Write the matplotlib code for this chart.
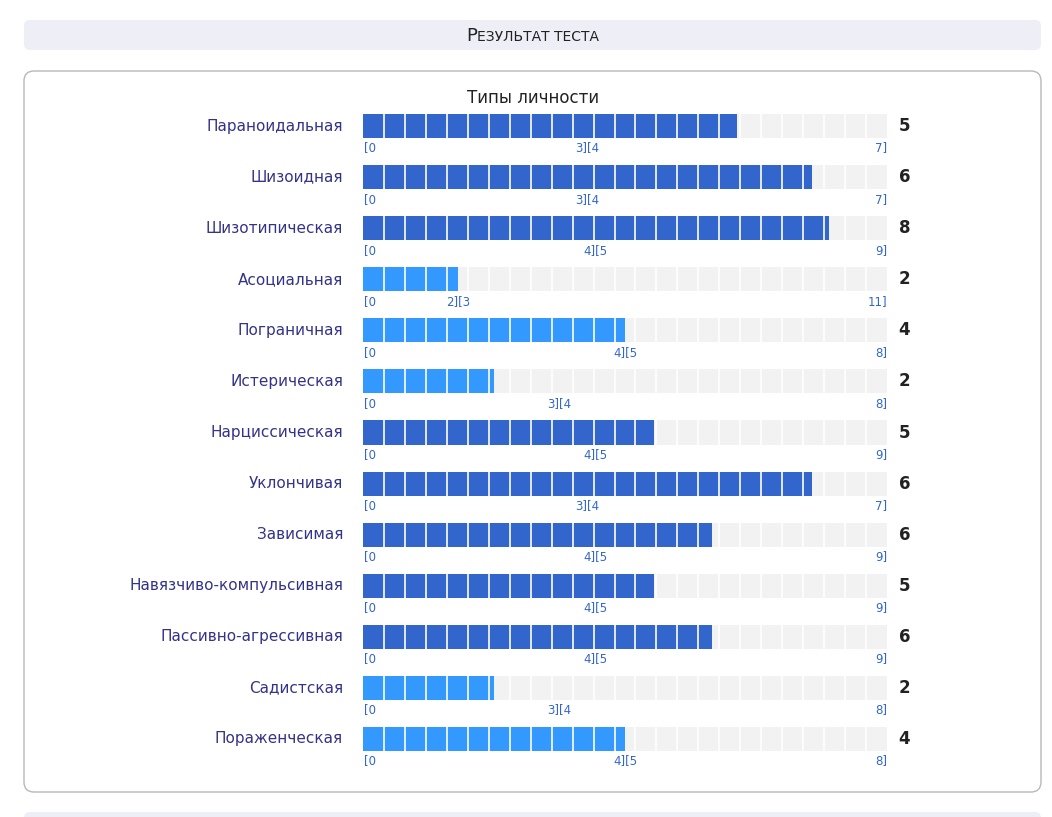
import matplotlib.pyplot as plt
from matplotlib.patches import FancyBboxPatch, Rectangle

names = ['Параноидальная', 'Шизоидная', 'Шизотипическая', 'Асоциальная', 'Пограничная',
         'Истерическая', 'Нарциссическая', 'Уклончивая', 'Зависимая',
         'Навязчиво-компульсивная', 'Пассивно-агрессивная', 'Садистская', 'Пораженческая']
values = [5, 6, 8, 2, 4, 2, 5, 6, 6, 5, 6, 2, 4]
maxes = [7, 7, 9, 11, 8, 8, 9, 7, 9, 9, 9, 8, 8]
thresholds = [3, 3, 4, 2, 4, 3, 4, 3, 4, 4, 4, 3, 4]
n_cells = 25

W, H = 1052, 817
fig = plt.figure(figsize=(W / 100, H / 100), dpi=100)
fig.patch.set_facecolor('white')

def px(x, y):
    return x / W, 1 - y / H

# header and card
bg = fig.add_axes([0, 0, 1, 1])
bg.set_xlim(0, W); bg.set_ylim(H, 0); bg.axis('off')
bg.add_patch(FancyBboxPatch((24, 20), 1017, 30, boxstyle='round,pad=0,rounding_size=6',
                            fc='#eeeef7', ec='none'))
bg.text(466, 36, 'Р', fontsize=13, ha='left', va='center', color='#222')
bg.text(477, 37, 'ЕЗУЛЬТАТ ТЕСТА', fontsize=10, ha='left', va='center', color='#222')
bg.add_patch(FancyBboxPatch((24, 71), 1017, 721, boxstyle='round,pad=0,rounding_size=10',
                            fc='white', ec='#b8b8b8', lw=1))
bg.add_patch(FancyBboxPatch((24, 812), 1017, 20, boxstyle='round,pad=0,rounding_size=6',
                            fc='#eeeef7', ec='none'))
bg.text(533, 98, 'Типы личности', fontsize=12, ha='center', va='center', color='#222')

# bars
left, right = 363, 887
top, bottom = 126 - 25.5, 739 + 25.5
ax = fig.add_axes([left / W, 1 - bottom / H, (right - left) / W, (bottom - top) / H])
ax.set_xlim(0, 1)
ax.set_ylim(len(names) - 0.5, -0.5)
ax.axis('off')
bh = 24 / 51
for i, (nm, v, m, t) in enumerate(zip(names, values, maxes, thresholds)):
    ax.barh(i, 1, height=bh, color='#f2f2f2')
    col = '#3366cc' if v > t else '#3399ff'
    ax.barh(i, v / m, height=bh, color=col)
    for k in range(1, n_cells):
        ax.plot([k / n_cells] * 2, [i - bh / 2, i + bh / 2], color='white', lw=1.2)
    ax.text(-0.038, i, nm, ha='right', va='center', fontsize=11, color='#33338a', clip_on=False)
    ax.text(1.022, i, str(v), ha='left', va='center', fontsize=12, fontweight='bold',
            color='#222', clip_on=False)
    ly = i + 0.43
    ax.text(0.002, ly, '[0', ha='left', va='center', fontsize=8.5, color='#3366cc')
    ax.text(t / m, ly, f'{t}][{t + 1}', ha='center', va='center', fontsize=8.5, color='#3366cc')
    ax.text(1.0, ly, f'{m}]', ha='right', va='center', fontsize=8.5, color='#3366cc')

fig.savefig('out.png', dpi=100)
